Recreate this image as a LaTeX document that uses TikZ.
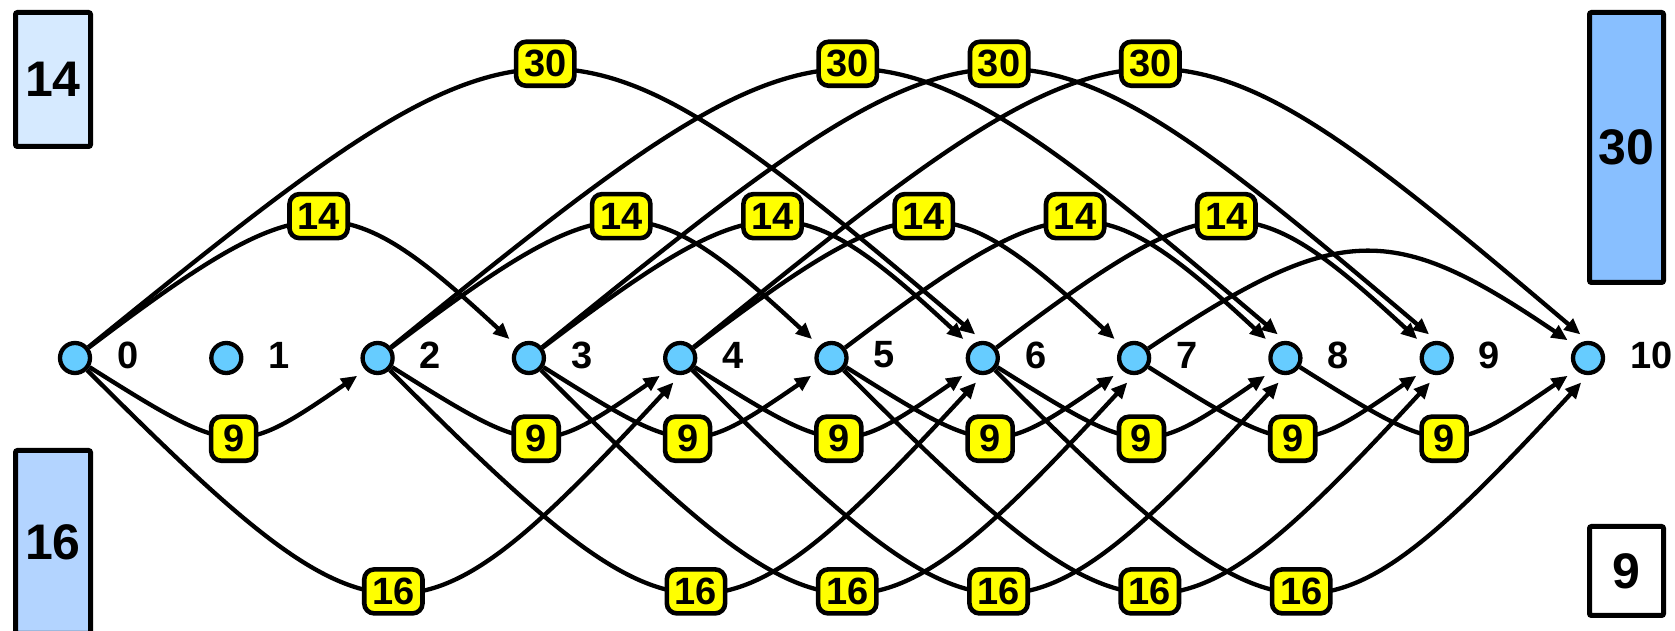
\documentclass[tikz,border=0pt]{standalone}
\usepackage{fontspec}
\setmainfont{Liberation Sans}
\usetikzlibrary{arrows.meta}
\definecolor{vfill}{RGB}{102,204,255}
\definecolor{bxa}{RGB}{214,234,255}
\definecolor{bxb}{RGB}{179,212,255}
\definecolor{bxc}{RGB}{136,191,255}
\definecolor{lblyellow}{RGB}{255,255,0}
\begin{document}
\begin{tikzpicture}[x=1pt,y=1pt,
  vert/.style={circle,draw,line width=4.3pt,fill=vfill,minimum size=30pt,inner sep=0pt},
  vlab/.style={anchor=west,inner sep=0pt,font=\fontsize{38}{38}\selectfont\bfseries},
  edge/.style={line width=4.3pt,-{Triangle[length=16pt,width=14pt]},shorten >=10pt},
  wlab/.style={draw,line width=4.6pt,fill=lblyellow,rounded corners=10pt,minimum width=45pt,minimum height=44pt,inner xsep=8pt,inner ysep=0pt,font=\fontsize{38}{38}\selectfont\bfseries},
  sbox/.style={draw,line width=5pt,rounded corners=2pt,inner sep=0pt,minimum width=75pt,font=\fontsize{50}{50}\selectfont\bfseries}
]
\clip (0,0) rectangle (1675,631);
\fill[white] (0,0) rectangle (1675,631);
% side boxes
\node[sbox,fill=bxa,minimum height=134pt] (b14) at (53,551.5) {14};
\node[sbox,fill=bxb,minimum height=183pt] (b16) at (53,89) {16};
\node[sbox,fill=bxc,minimum width=74pt,minimum height=270pt] (b30) at (1626.5,483.5) {30};
\node[sbox,fill=white,minimum width=74pt,minimum height=89pt] (b9) at (1626.5,60) {9};
% vertices
\foreach \i in {0,...,10} {
  \node[vert] (n\i) at ({75+151.3*\i},273) {};
  \node[vlab] (t\i) at ({117+151.3*\i},276) {\i};
}
% weight 9 edges (length 2)
\foreach \a/\b in {0/2,2/4,3/5,4/6,5/7,6/8,7/9,8/10} {
  \draw[edge] (n\a) .. controls +(159,-100) and +(-128,-88) .. (n\b.225) coordinate[pos=0.5] (m9-\a);
}
% weight 14 edges (length 3)
\foreach \a/\b in {0/3,2/5,3/6,4/7,5/8,6/9} {
  \draw[edge] (n\a) .. controls +(233,176) and +(-177,164) .. (n\b.north west) coordinate[pos=0.5] (m14-\a);
}
\draw[edge] (n7) .. controls +(205,137) and +(-184,125) .. (n10.north west);
% weight 16 edges (length 4)
\foreach \a/\b in {0/4,2/6,3/7,4/8,5/9,6/10} {
  \draw[edge] (n\a) .. controls +(306,-306) and +(-268,-289.5) .. (n\b.south) coordinate[pos=0.5] (m16-\a);
}
% weight 30 edges (length 6)
\foreach \a/\b in {0/6,2/8,3/9,4/10} {
  \draw[edge] (n\a) .. controls +(466,378) and +(-427,361.5) .. (n\b.north) coordinate[pos=0.5] (m30-\a);
}
% weight labels
\foreach \a in {0,2,3,4,5,6,7,8} \node[wlab,yshift=-3pt] (w9-\a) at (m9-\a) {9};
\foreach \a in {0,2,3,4,5,6} \node[wlab,yshift=7pt] (w14-\a) at (m14-\a) {14};
\foreach \a in {0,2,3,4,5,6} \node[wlab] (w16-\a) at (m16-\a) {16};
\foreach \a in {0,2,3,4} \node[wlab,yshift=7pt] (w30-\a) at (m30-\a) {30};
\end{tikzpicture}
\end{document}
